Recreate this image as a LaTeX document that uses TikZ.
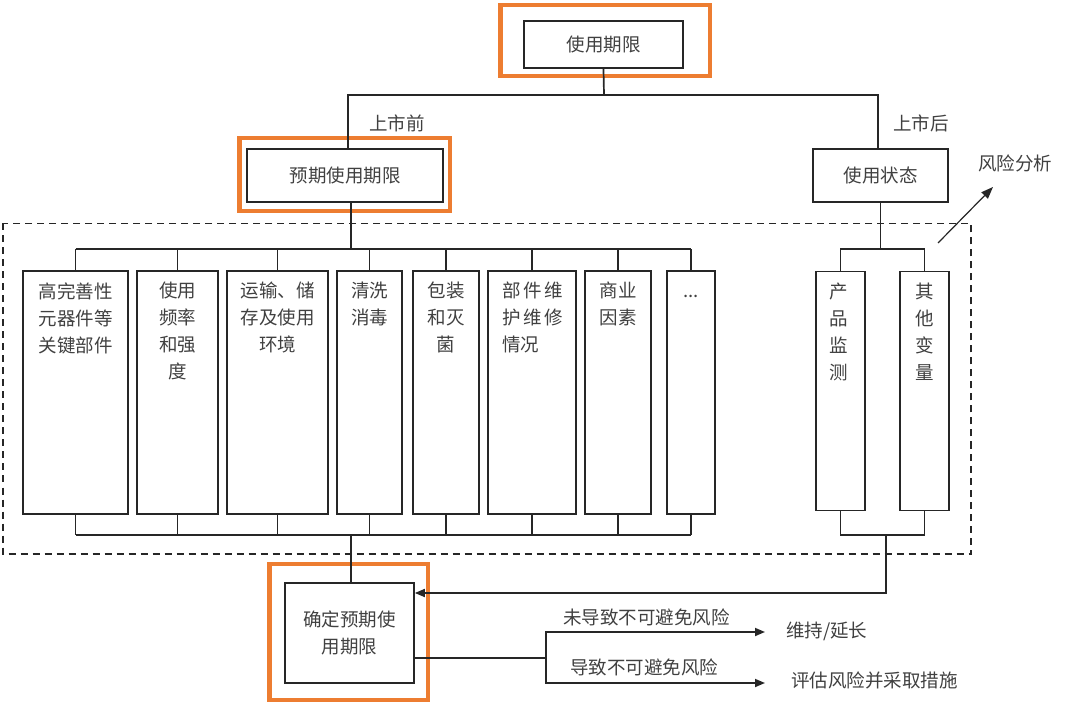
\documentclass[tikz,border=0pt]{standalone}
\usepackage{fontspec}
\setmainfont{Noto Sans CJK SC}
\usepackage{xcolor}
\usetikzlibrary{arrows.meta}
\definecolor{hlorange}{HTML}{ED7D31}

\begin{document}
\begin{tikzpicture}[x=1pt, y=-1pt]
  \tikzset{
    box/.style={draw=black!85, line width=1.7pt, inner sep=0pt},
    word/.style={text=black!75, inner sep=0pt, align=center, font=\fontsize{18.5}{27}\selectfont},
    wire/.style={line width=1.7pt, draw=black!85},
    hilite/.style={draw=hlorange, line width=4.5pt},
    tip/.style={-{Triangle[length=10pt, width=8pt]}}
  }
  \useasboundingbox (0,0) rectangle (1080,703);

  % orange frames
  \draw[hilite] (500.5,5) rectangle (710,76);
  \draw[hilite] (239.5,138) rectangle (450,211);
  \draw[hilite] (269.5,564) rectangle (428,700);

  % dashed area
  \draw[line width=1.7pt, black!85, dash pattern=on 7pt off 5pt] (3,223.5) rectangle (971,554);

  \node[box, word, minimum width=159pt, minimum height=47pt] (life) at (603.5,44.5) {使用期限};
  \node[box, word, minimum width=196pt, minimum height=53pt] (expect) at (345,175.5) {预期使用期限};
  \node[box, word, minimum width=135pt, minimum height=53pt] (state) at (880.5,175.5) {使用状态};
  \node[word] (pre) at (397,123) {上市前};
  \node[word] (post) at (921,123) {上市后};

  \coordinate (top) at (604,95);
  \draw[wire] (life.south) -- (top);
  \draw[wire] ([xshift=3pt]expect.north) |- (top) -| ([xshift=-2.5pt]state.north);

  % factor columns
  \foreach \n/\x/\w in {f1/75.5/105, f2/177.5/81, f3/277.5/101, f4/369.5/65,
                        f5/446/66, f6/532/88, f7/618/66, f8/691/48} {
      \node[box, minimum width=\w pt, minimum height=243pt] (\n) at (\x,392.5) {};
  }
  \foreach \n/\t in {f1/{高完善性\\元器件等\\关键部件}, f2/{使用\\频率\\和强\\度},
                     f3/{运输、储\\存及使用\\环境}, f4/{清洗\\消毒}, f5/{包装\\和灭\\菌},
                     f7/{商业\\因素}, f8/{\vphantom{高}...}} {
      \node[word, anchor=north] (\n-t) at ([yshift=-12pt]\n.north) {\t};
  }
  \node[word, align=left, anchor=north west] (f6-t) at ([xshift=15pt, yshift=-12pt]f6.north west)
      {部\hspace{2.7pt}件\hspace{2.7pt}维\\护\hspace{2.7pt}维\hspace{2.7pt}修\\情况};

  \coordinate (bus1) at (351,249);
  \coordinate (bus2) at (351,535);
  \draw[wire] (bus1 |- expect.south) -- (bus1);
  \draw[wire] (f1.north |- bus1) -- (f8.north |- bus1);
  \draw[wire] (f1.south |- bus2) -- (f8.south |- bus2);
  \foreach \n in {f1,f2,f3,f4,f5,f6,f7,f8} {
      \draw[wire] (\n.north) -- (\n.north |- bus1);
      \draw[wire] (\n.south) -- (\n.south |- bus2);
  }

  % monitoring columns
  \node[box, minimum width=49pt, minimum height=239pt] (p1) at (840.5,391) {};
  \node[box, minimum width=49pt, minimum height=239pt] (p2) at (924.5,391) {};
  \node[word, anchor=north] (p1-t) at ([xshift=-2pt, yshift=-12pt]p1.north) {产\\品\\监\\测};
  \node[word, anchor=north] (p2-t) at ([yshift=-12pt]p2.north) {其\\他\\变\\量};

  \coordinate (bus3) at (880.5,249);
  \coordinate (bus4) at (886,535);
  \draw[wire] (state.south) -- (bus3);
  \draw[wire] (p1.north) |- (bus3) -| (p2.north);
  \draw[wire] (p1.south) |- (bus4) -| (p2.south);

  \node[word] (risk) at (1015,163) {风险分析};
  \coordinate (ra) at (938,243);
  \coordinate (rb) at (993,187);
  \draw[line width=1.2pt, black!85, -{Triangle[length=12pt, width=9pt]}] (ra) -- (rb);

  % decision
  \node[box, word, minimum width=129pt, minimum height=100pt] (fix) at (349.5,633) {确定预期使\\用期限};
  \draw[wire] (bus2) -- (bus2 |- fix.north);
  \draw[wire, tip] (bus4) |- ([yshift=40pt]fix.east);

  \node[word, anchor=west] (keep) at (786,631) {维持/延长};
  \node[word, anchor=west] (act) at (791,680) {评估风险并采取措施};
  \node[word, anchor=west] (no) at (563,617) {未导致不可避免风险};
  \node[word, anchor=west] (yes) at (570,667) {导致不可避免风险};

  \coordinate (split) at (546,658);
  \draw[wire] ([yshift=-25pt]fix.east) -- (split);
  \draw[wire, tip] (split) |- ([xshift=-21pt, yshift=-1pt]keep.west);
  \draw[wire, tip] (split) |- ([xshift=-26pt, yshift=-3pt]act.west);
\end{tikzpicture}
\end{document}
